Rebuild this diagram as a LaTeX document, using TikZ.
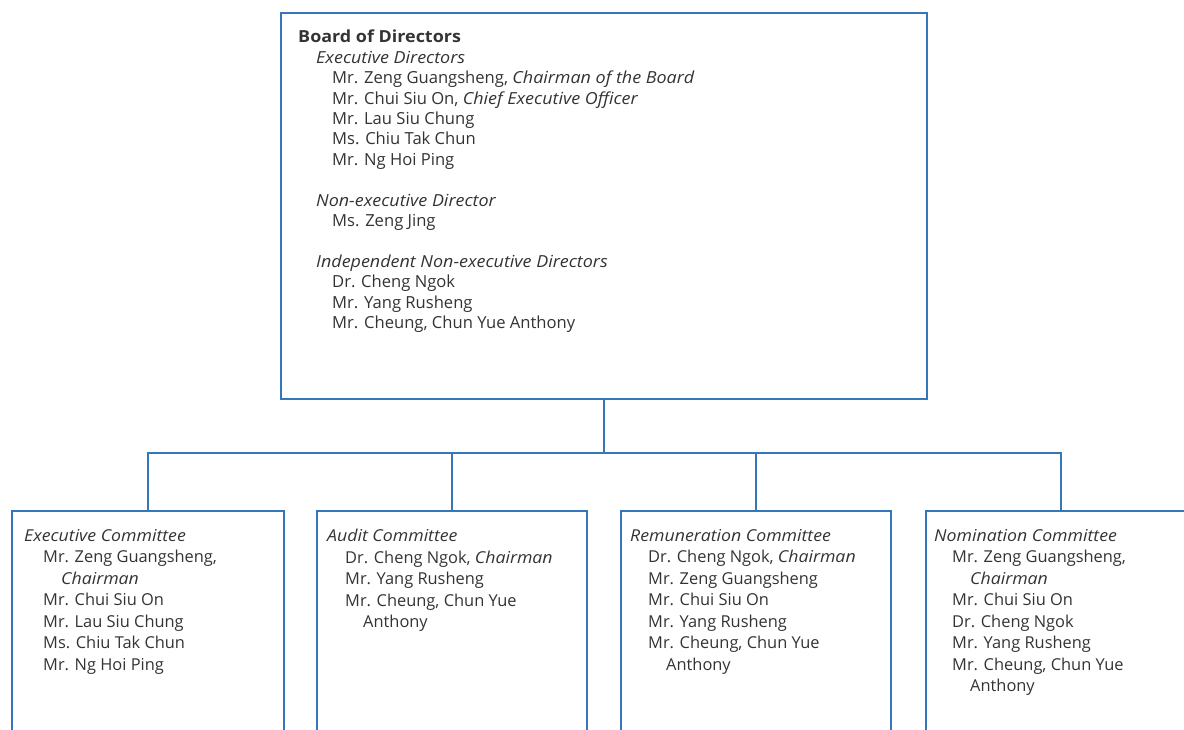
\documentclass[tikz,border=0pt]{standalone}
\usepackage{fontspec}
\setmainfont{Open Sans}[ItalicFeatures={FakeStretch=1.08},BoldFeatures={FakeStretch=1.08}]
\definecolor{lineblue}{HTML}{3478BA}
\definecolor{txtgray}{HTML}{333333}
\begin{document}
\begin{tikzpicture}[x=1pt,y=-1pt,
  box/.style={draw=lineblue, line width=1.2pt, anchor=north west, inner sep=0pt, outer sep=0pt},
  conn/.style={draw=lineblue, line width=1.2pt},
  boardtext/.style={anchor=north west, inner sep=0pt, align=left, text=txtgray, font=\fontsize{16.6}{20.4}\selectfont},
  comtext/.style={anchor=north west, inner sep=0pt, align=left, text=txtgray, font=\fontsize{16.4}{21.5}\selectfont}]
\clip (0,0) rectangle (1184,729);
\useasboundingbox (0,0) rectangle (1184,729);
% boxes
\node[box, minimum width=646pt, minimum height=386pt] (board) at (281,13) {};
\node[box, minimum width=272pt, minimum height=240pt] (exec) at (12,511) {};
\node[box, minimum width=270pt, minimum height=240pt] (audit) at (317,511) {};
\node[box, minimum width=270pt, minimum height=240pt] (remu) at (621,511) {};
\node[box, minimum width=270pt, minimum height=240pt] (nomi) at (926,511) {};
% connectors
\draw[conn] (board.south) -- ++(0,54) coordinate (bus);
\draw[conn] (exec.north) |- (bus) -| (nomi.north);
\draw[conn] (audit.north) -- (audit.north |- bus);
\draw[conn] (remu.north) -- (remu.north |- bus);
% texts
\node[boardtext] (boardtxt) at (298,30) {%
\textbf{Board of Directors}\\
\hspace*{18pt}\textit{Executive Directors}\\
\hspace*{34pt}Mr. Zeng Guangsheng, \textit{Chairman of the Board}\\
\hspace*{34pt}Mr. Chui Siu On, \textit{Chief Executive Officer}\\
\hspace*{34pt}Mr. Lau Siu Chung\\
\hspace*{34pt}Ms. Chiu Tak Chun\\
\hspace*{34pt}Mr. Ng Hoi Ping\\[20.4pt]
\hspace*{18pt}\textit{Non-executive Director}\\
\hspace*{34pt}Ms. Zeng Jing\\[20.4pt]
\hspace*{18pt}\textit{Independent Non-executive Directors}\\
\hspace*{34pt}Dr. Cheng Ngok\\
\hspace*{34pt}Mr. Yang Rusheng\\
\hspace*{34pt}Mr. Cheung, Chun Yue Anthony};
\node[comtext] (exectxt) at (24,529) {%
\textit{Executive Committee}\\
\hspace*{19pt}Mr. Zeng Guangsheng,\\
\hspace*{37pt}\textit{Chairman}\\
\hspace*{19pt}Mr. Chui Siu On\\
\hspace*{19pt}Mr. Lau Siu Chung\\
\hspace*{19pt}Ms. Chiu Tak Chun\\
\hspace*{19pt}Mr. Ng Hoi Ping};
\node[comtext] (audittxt) at (327,529) {%
\textit{Audit Committee}\\
\hspace*{18pt}Dr. Cheng Ngok, \textit{Chairman}\\
\hspace*{18pt}Mr. Yang Rusheng\\
\hspace*{18pt}Mr. Cheung, Chun Yue\\
\hspace*{36pt}Anthony};
\node[comtext] (remutxt) at (630,529) {%
\textit{Remuneration Committee}\\
\hspace*{18pt}Dr. Cheng Ngok, \textit{Chairman}\\
\hspace*{18pt}Mr. Zeng Guangsheng\\
\hspace*{18pt}Mr. Chui Siu On\\
\hspace*{18pt}Mr. Yang Rusheng\\
\hspace*{18pt}Mr. Cheung, Chun Yue\\
\hspace*{36pt}Anthony};
\node[comtext] (nomitxt) at (934,529) {%
\textit{Nomination Committee}\\
\hspace*{18pt}Mr. Zeng Guangsheng,\\
\hspace*{36pt}\textit{Chairman}\\
\hspace*{18pt}Mr. Chui Siu On\\
\hspace*{18pt}Dr. Cheng Ngok\\
\hspace*{18pt}Mr. Yang Rusheng\\
\hspace*{18pt}Mr. Cheung, Chun Yue\\
\hspace*{36pt}Anthony};
\end{tikzpicture}
\end{document}
